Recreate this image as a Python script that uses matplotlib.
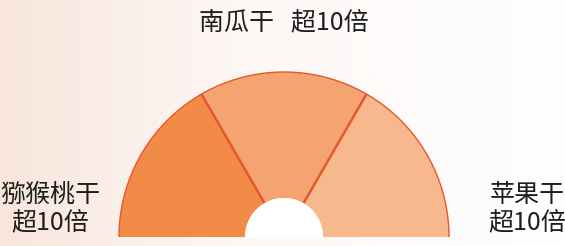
import matplotlib
matplotlib.use("Agg")
import matplotlib.pyplot as plt
import numpy as np
from matplotlib.patches import Wedge, Arc
from matplotlib.colors import LinearSegmentedColormap

plt.rcParams['font.family'] = ['Noto Sans CJK SC', 'DejaVu Sans']

# data: three equal shares, left to right
categories = ["猕猴桃干", "南瓜干", "苹果干"]
shares = [1, 1, 1]
growth = ["超10倍", "超10倍", "超10倍"]
colors = ["#F28B47", "#F3A470", "#F6B88C"]
line_color = "#E5582B"

fig = plt.figure(figsize=(5.65, 2.46), dpi=100)
ax = fig.add_axes([0, 0, 1, 1])
ax.set_xlim(0, 565)
ax.set_ylim(0, 246)
ax.axis("off")

# soft peach-to-white background
bg = LinearSegmentedColormap.from_list(
    "bg", [(0, "#F8E6DB"), (0.22, "#FBEFEA"), (0.45, "#FDF8F6"), (1, "#FEFEFE")])
ax.imshow(np.linspace(0, 1, 256)[None, :], cmap=bg, aspect="auto",
          extent=[0, 565, 0, 246], zorder=0)

cx, cy = 284, 9
r_out, r_in = 165, 39

# half donut, drawn from the left (180 deg) to the right (0 deg)
total = sum(shares)
start = 180.0
for name, s, col in zip(categories, shares, colors):
    span = 180.0 * s / total
    ax.add_patch(Wedge((cx, cy), r_out, start - span, start, width=r_out - r_in,
                       facecolor=col, edgecolor="none", zorder=2))
    start -= span

# divider lines between segments
ang = 180.0
for s in shares[:-1]:
    ang -= 180.0 * s / total
    t = np.deg2rad(ang)
    ax.plot([cx + r_in * np.cos(t), cx + r_out * np.cos(t)],
            [cy + r_in * np.sin(t), cy + r_out * np.sin(t)],
            color=line_color, lw=1.8, zorder=3, solid_capstyle="butt")

ax.add_patch(Arc((cx, cy), 2 * r_out, 2 * r_out, theta1=0, theta2=180,
                 color=line_color, lw=1.0, zorder=3))
ax.add_patch(Wedge((cx, cy), r_in, 0, 180, facecolor="white",
                   edgecolor="none", zorder=3))

# labels
txt = dict(fontsize=18, color="#1E1E1E", weight="medium")
ax.text(284, 223, categories[1] + "   " + growth[1], ha="center", va="center", **txt)
ax.text(50, 37, categories[0] + "\n" + growth[0], ha="center", va="center",
        linespacing=1.15, **txt)
ax.text(527, 37, categories[2] + "\n" + growth[2], ha="center", va="center",
        linespacing=1.15, **txt)

fig.savefig("out.png", dpi=100)
